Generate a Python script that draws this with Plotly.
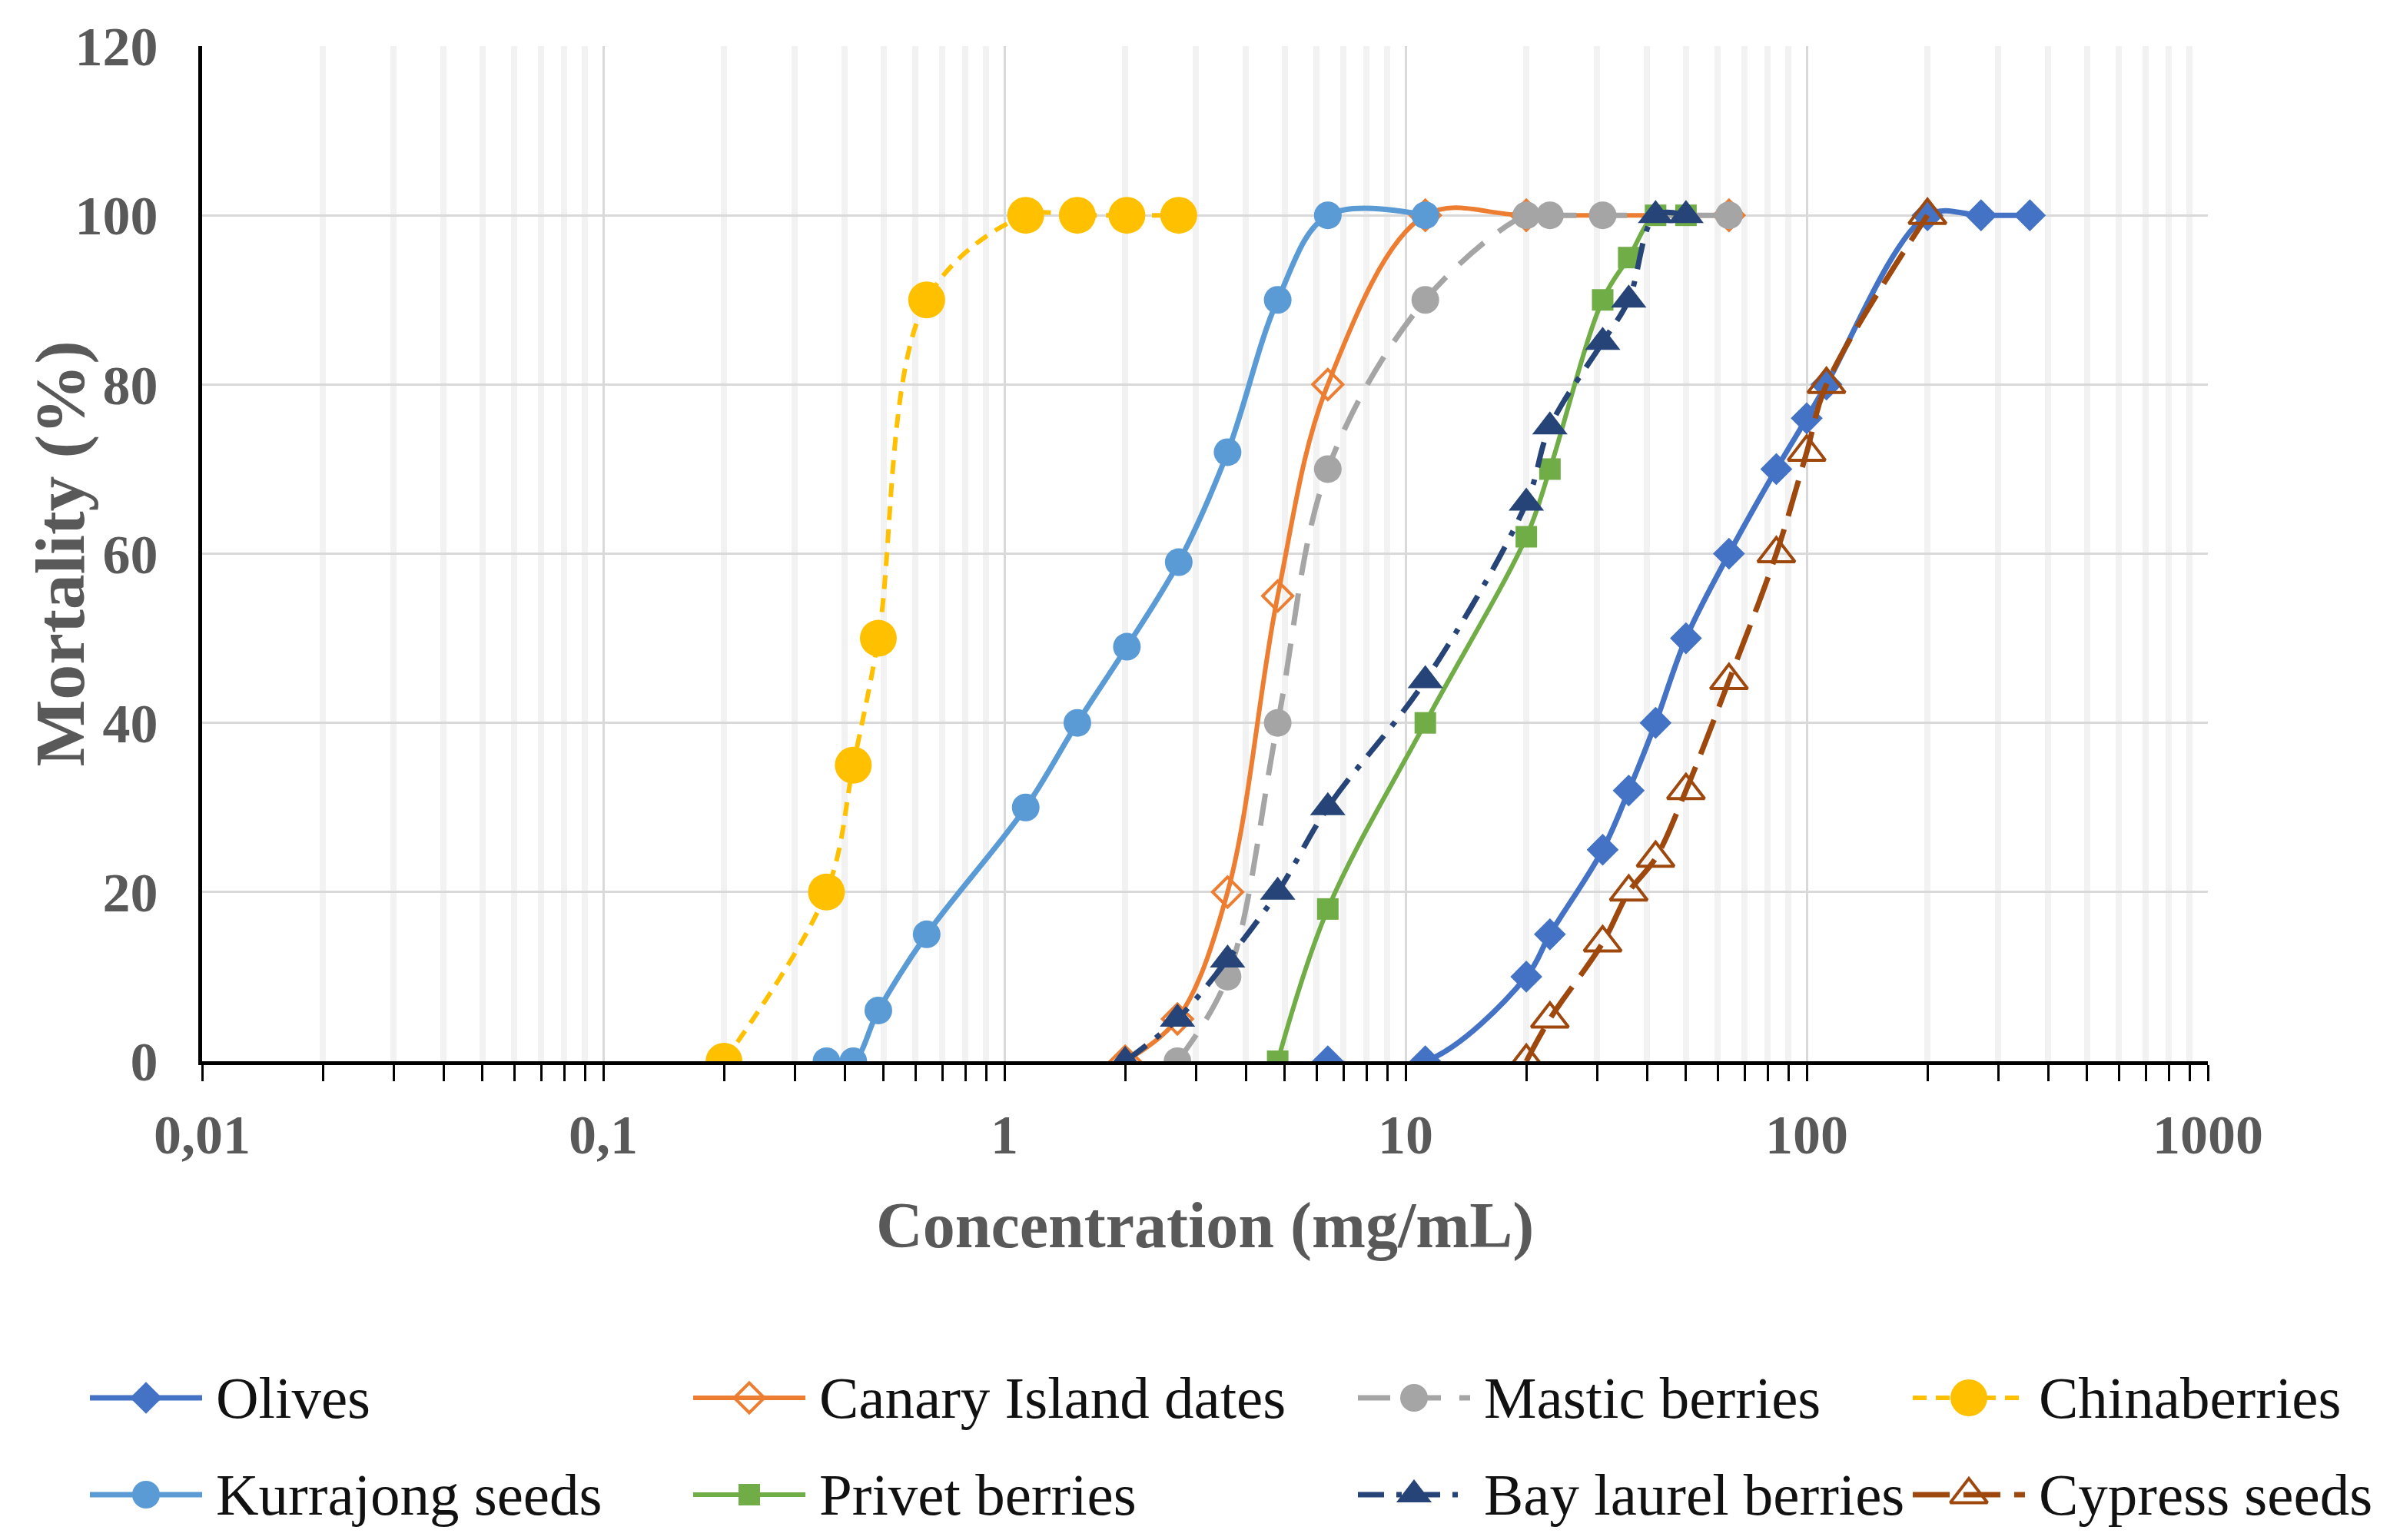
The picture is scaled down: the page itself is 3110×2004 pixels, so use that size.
import plotly.graph_objects as go

# concentrations (mg/mL) and mortality (%)
olives_x = [6.4, 11.2, 20, 22.9, 31, 36, 42, 50, 64, 84, 100, 112, 200, 272, 360]
olives_y = [0, 0, 10, 15, 25, 32, 40, 50, 60, 70, 76, 80, 100, 100, 100]

canary_x = [2.0, 2.7, 3.6, 4.8, 6.4, 11.2, 20, 64]
canary_y = [0, 5, 20, 55, 80, 100, 100, 100]

mastic_x = [2.7, 3.6, 4.8, 6.4, 11.2, 20, 22.9, 31, 64]
mastic_y = [0, 10, 40, 70, 90, 100, 100, 100, 100]

china_x = [0.2, 0.36, 0.42, 0.485, 0.64, 1.13, 1.52, 2.02, 2.72]
china_y = [0, 20, 35, 50, 90, 100, 100, 100, 100]

kurrajong_x = [0.36, 0.42, 0.485, 0.64, 1.13, 1.52, 2.02, 2.72, 3.6, 4.8, 6.4, 11.2]
kurrajong_y = [0, 0, 6, 15, 30, 40, 49, 59, 72, 90, 100, 100]

privet_x = [4.8, 6.4, 11.2, 20, 22.9, 31, 36, 42, 50]
privet_y = [0, 18, 40, 62, 70, 90, 95, 100, 100]

bay_x = [2.0, 2.7, 3.6, 4.8, 6.4, 11.2, 20, 22.9, 31, 36, 42, 50]
bay_y = [0, 5, 12, 20, 30, 45, 66, 75, 85, 90, 100, 100]

cypress_x = [20, 22.9, 31, 36, 42, 50, 64, 84, 100, 112, 200]
cypress_y = [0, 5, 14, 20, 24, 32, 45, 60, 72, 80, 100]

x_tickvals = [0.01, 0.1, 1, 10, 100, 1000]
x_ticktext = ["0,01", "0,1", "1", "10", "100", "1000"]
y_tickvals = [0, 20, 40, 60, 80, 100, 120]

W, H = 3110, 2004
SERIF = "Liberation Serif"
GREY = "#595959"

# plot area in page pixels
PL, PR, PT, PB = 255, 2865, 52, 1373

series = [
    ("Olives", olives_x, olives_y,
     dict(color="#4472C4", width=7, dash="solid"),
     dict(symbol="diamond", size=32, color="#4472C4")),
    ("Canary Island dates", canary_x, canary_y,
     dict(color="#ED7D31", width=6, dash="solid"),
     dict(symbol="diamond-open", size=30, color="#ED7D31", line=dict(width=4, color="#ED7D31"))),
    ("Mastic berries", mastic_x, mastic_y,
     dict(color="#A5A5A5", width=7, dash="42px,24px"),
     dict(symbol="circle", size=36, color="#A5A5A5")),
    ("Chinaberries", china_x, china_y,
     dict(color="#FFC000", width=6, dash="18px,12px"),
     dict(symbol="circle", size=48, color="#FFC000")),
    ("Kurrajong seeds", kurrajong_x, kurrajong_y,
     dict(color="#5B9BD5", width=7, dash="solid"),
     dict(symbol="circle", size=36, color="#5B9BD5")),
    ("Privet berries", privet_x, privet_y,
     dict(color="#70AD47", width=6, dash="solid"),
     dict(symbol="square", size=28, color="#70AD47")),
    ("Bay laurel berries", bay_x, bay_y,
     dict(color="#264478", width=7, dash="34px,16px,7px,16px"),
     dict(symbol="triangle-up", size=40, color="#264478")),
    ("Cypress seeds", cypress_x, cypress_y,
     dict(color="#9E480E", width=7, dash="48px,18px"),
     dict(symbol="triangle-up-open", size=42, color="#9E480E", line=dict(width=4, color="#9E480E"))),
]

fig = go.Figure()

for name, xs, ys, line, marker in series:
    fig.add_trace(go.Scatter(x=xs, y=ys, mode="lines+markers", name=name,
                             line=dict(shape="spline", smoothing=1, **line),
                             marker=marker, showlegend=False,
                             xaxis="x", yaxis="y"))

# hand-made legend below the plot, drawn on a hidden pixel-scaled axis pair
leg_cols = [109, 894, 1759, 2481]
leg_rows = [1811, 1937]
key_len = 146
annotations = []
for i, (name, xs, ys, line, marker) in enumerate(series):
    cx = leg_cols[i % 4]
    cy = leg_rows[i // 4]
    fig.add_trace(go.Scatter(x=[cx, cx + key_len], y=[cy, cy], mode="lines",
                             line=dict(color=line["color"], width=line["width"], dash=line["dash"]),
                             showlegend=False, hoverinfo="skip", xaxis="x2", yaxis="y2"))
    fig.add_trace(go.Scatter(x=[cx + key_len / 2], y=[cy], mode="markers",
                             marker=marker, showlegend=False, hoverinfo="skip",
                             xaxis="x2", yaxis="y2"))
    annotations.append(dict(x=cx + key_len + 16, y=cy, xref="x2", yref="y2",
                            text=name, showarrow=False, xanchor="left", yanchor="middle",
                            font=dict(family=SERIF, size=77, color="#111111")))

# axis titles
annotations.append(dict(x=(PL + PR) / 2 / W, y=1 - 1587 / H, xref="paper", yref="paper",
                        text="Concentration (mg/mL)", showarrow=False,
                        xanchor="center", yanchor="middle",
                        font=dict(family=SERIF, size=84, color=GREY, weight="bold")))
annotations.append(dict(x=69 / W, y=1 - (PT + PB) / 2 / H, xref="paper", yref="paper",
                        text="Mortality (%)", showarrow=False, textangle=-90,
                        xanchor="center", yanchor="middle",
                        font=dict(family=SERIF, size=92, color=GREY, weight="bold")))

minor_vals = [k * 10 ** d for d in range(-2, 3) for k in range(2, 10)]

fig.update_layout(
    width=W, height=H,
    margin=dict(l=0, r=0, t=0, b=0),
    paper_bgcolor="white", plot_bgcolor="white",
    annotations=annotations,
    xaxis=dict(type="log", range=[-2, 3], domain=[PL / W, PR / W],
               tickmode="array", tickvals=x_tickvals, ticktext=x_ticktext,
               tickfont=dict(family=SERIF, size=72, color=GREY, weight="bold"),
               ticks="outside", ticklen=21, tickwidth=3, tickcolor="black",
               ticklabelstandoff=8,
               showline=True, linecolor="black", linewidth=5,
               showgrid=True, gridcolor="#D9D9D9", gridwidth=3,
               minor=dict(tickmode="array", tickvals=minor_vals, ticks="outside",
                          ticklen=21, tickwidth=3, tickcolor="black",
                          showgrid=True, gridcolor="#F2F2F2", gridwidth=8),
               zeroline=False, automargin=False, anchor="y"),
    yaxis=dict(range=[0, 120], domain=[1 - PB / H, 1 - PT / H],
               tickmode="array", tickvals=y_tickvals,
               tickfont=dict(family=SERIF, size=72, color=GREY, weight="bold"),
               ticks="", ticklabelstandoff=38,
               showline=True, linecolor="black", linewidth=5,
               showgrid=True, gridcolor="#D9D9D9", gridwidth=3,
               zeroline=False, automargin=False, anchor="x"),
    xaxis2=dict(range=[0, W], domain=[0, 1], visible=False, anchor="y2", fixedrange=True),
    yaxis2=dict(range=[H, H - 0.3 * H], domain=[0, 0.3], visible=False, anchor="x2",
                fixedrange=True),
)

fig.write_html("out.html")
